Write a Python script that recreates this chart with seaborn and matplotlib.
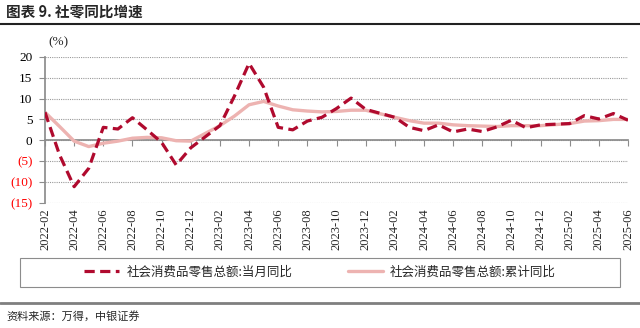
import matplotlib
matplotlib.use("Agg")
import matplotlib.pyplot as plt
import seaborn as sns
import pandas as pd
from matplotlib.patches import Rectangle
from matplotlib.lines import Line2D

# ---- data ----
months = [
    "2022-02", "2022-03", "2022-04", "2022-05", "2022-06", "2022-07", "2022-08",
    "2022-09", "2022-10", "2022-11", "2022-12",
    "2023-02", "2023-03", "2023-04", "2023-05", "2023-06", "2023-07", "2023-08",
    "2023-09", "2023-10", "2023-11", "2023-12",
    "2024-02", "2024-03", "2024-04", "2024-05", "2024-06", "2024-07", "2024-08",
    "2024-09", "2024-10", "2024-11", "2024-12",
    "2025-02", "2025-03", "2025-04", "2025-05", "2025-06",
]
monthly_yoy = [
    6.7, -3.5, -11.1, -6.7, 3.1, 2.7, 5.4, 2.5, -0.5, -5.9, -1.8,
    3.5, 10.6, 18.4, 12.7, 3.1, 2.5, 4.6, 5.5, 7.6, 10.1, 7.4,
    5.5, 3.1, 2.3, 3.7, 2.0, 2.7, 2.1, 3.2, 4.8, 3.0, 3.7,
    4.0, 5.9, 5.1, 6.4, 4.8,
]
cumulative_yoy = [
    6.7, 3.3, -0.2, -1.5, -0.7, -0.2, 0.5, 0.7, 0.6, -0.1, -0.2,
    3.5, 5.8, 8.5, 9.3, 8.2, 7.3, 7.0, 6.8, 6.9, 7.2, 7.2,
    5.5, 4.7, 4.1, 4.1, 3.7, 3.5, 3.4, 3.3, 3.5, 3.5, 3.5,
    4.0, 4.6, 4.7, 5.0, 5.0,
]
tick_labels = [
    "2022-02", "2022-04", "2022-06", "2022-08", "2022-10", "2022-12",
    "2023-02", "2023-04", "2023-06", "2023-08", "2023-10", "2023-12",
    "2024-02", "2024-04", "2024-06", "2024-08", "2024-10", "2024-12",
    "2025-02", "2025-04", "2025-06",
]
y_ticks = [-15, -10, -5, 0, 5, 10, 15, 20]
y_tick_labels = ["(15)", "(10)", "(5)", "0", "5", "10", "15", "20"]
series_names = ["社会消费品零售总额:当月同比", "社会消费品零售总额:累计同比"]
title = "图表 9. 社零同比增速"
source = "资料来源：万得，中银证券"

# ---- helpers ----
base = pd.Period(months[0], freq="M")


def pos(m):
    return (pd.Period(m, freq="M") - base).n


df = pd.DataFrame({
    "x": [pos(m) for m in months],
    "monthly": monthly_yoy,
    "cumulative": cumulative_yoy,
})
tick_pos = [pos(m) for m in tick_labels]

sns.set_theme(style="white")
plt.rcParams["font.family"] = ["Noto Sans CJK SC", "DejaVu Sans"]

W, H = 640, 328
fig = plt.figure(figsize=(W / 100, H / 100), dpi=100)
ax = fig.add_axes([45 / W, 1 - 203 / H, (628 - 45) / W, (203 - 56.7) / H])

dark = "#B00A2E"
pink = "#EDB3B1"

sns.lineplot(data=df, x="x", y="cumulative", ax=ax, color=pink, lw=2.4,
             label=series_names[1], zorder=2)
sns.lineplot(data=df, x="x", y="monthly", ax=ax, color=dark, lw=2.3,
             label=series_names[0], zorder=3)
ax.lines[1].set_dashes([3.2, 1.7])

ax.set_xlim(0, pos(tick_labels[-1]))
ax.set_ylim(-15, 20)
ax.set_xlabel("")
ax.set_ylabel("")

# gridlines
ax.yaxis.grid(True, linestyle=(0, (1, 1)), color="#9a9a9a", lw=0.8)
ax.xaxis.grid(False)
ax.set_axisbelow(True)

for s in ["top", "right"]:
    ax.spines[s].set_visible(False)
ax.spines["left"].set_color("#8c8c8c")
ax.spines["bottom"].set_color("#8c8c8c")
ax.spines["bottom"].set_position(("data", 0))
ax.spines["bottom"].set_zorder(1)

ax.set_xticks(tick_pos)
ax.tick_params(axis="x", bottom=True, labelbottom=False, length=4,
               direction="out", color="#8c8c8c", width=0.8)
ax.set_yticks(y_ticks)
ax.set_yticklabels(y_tick_labels, fontfamily="Liberation Serif", fontsize=9.5)
ax.tick_params(axis="y", left=True, length=4, direction="out",
               color="#8c8c8c", width=0.8, pad=5)
for lbl, v in zip(ax.get_yticklabels(), y_ticks):
    lbl.set_color("#FF0000" if v < 0 else "black")

sec = ax.secondary_xaxis("bottom")
sec.set_xticks(tick_pos)
sec.set_xticklabels(tick_labels, rotation=90, fontfamily="Liberation Serif",
                    fontsize=9)
sec.tick_params(length=0, pad=4)
sec.spines["bottom"].set_visible(False)

ax.get_legend().remove()

# ---- decorations ----
fig.text(6 / W, 1 - 12 / H, title, fontsize=10.5, fontweight="bold",
         va="center", ha="left")
fig.add_artist(Line2D([0, 1], [1 - 24 / H] * 2, transform=fig.transFigure,
                      color="#222222", lw=1.5))
fig.text(58 / W, 1 - 42 / H, "(%)", fontfamily="Liberation Serif",
         fontsize=9.5, ha="center", va="center")

handles = [ax.lines[1], ax.lines[0]]
fig.legend(handles, series_names, loc="center",
           bbox_to_anchor=(320 / W, 1 - 272 / H), ncol=2, frameon=False,
           columnspacing=4.4, handlelength=2.8, handletextpad=0.6,
           fontsize=9)
fig.add_artist(Rectangle((20 / W, 1 - 287 / H), 600 / W, 29 / H,
                         transform=fig.transFigure, fill=False,
                         ec="#8c8c8c", lw=0.8))
fig.add_artist(Line2D([0, 1], [1 - 303 / H] * 2, transform=fig.transFigure,
                      color="#7f7f7f", lw=2))
fig.text(6 / W, 1 - 316 / H, source, fontsize=8, va="center", ha="left",
         style="italic")

fig.savefig("out.png", dpi=100)
